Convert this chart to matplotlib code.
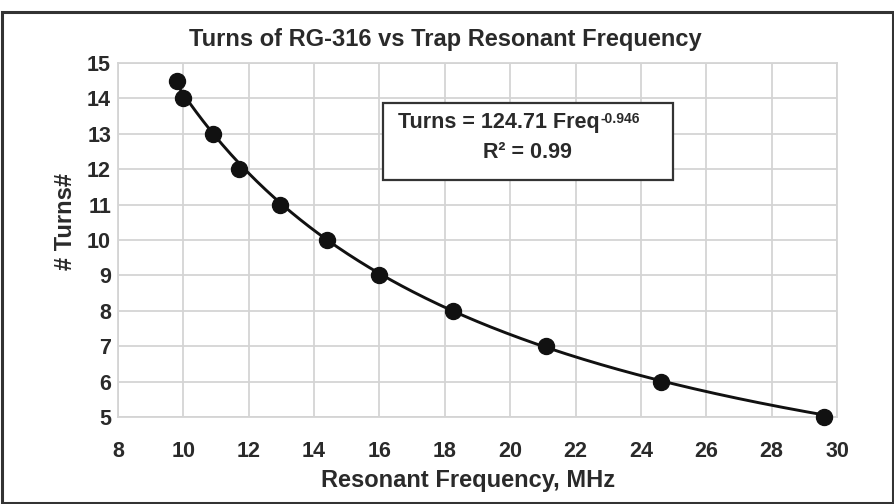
import numpy as np
import matplotlib
matplotlib.use("Agg")
import matplotlib.pyplot as plt
from matplotlib.patches import Rectangle

plt.rcParams['font.family'] = ['Liberation Sans', 'DejaVu Sans']

# Data
freq_mhz = [9.8, 10.0, 10.9, 11.7, 12.95, 14.4, 16.0, 18.25, 21.1, 24.6, 29.6]
turns = [14.5, 14.0, 13.0, 12.0, 11.0, 10.0, 9.0, 8.0, 7.0, 6.0, 5.0]

# Trendline coefficients shown on the chart
fit_coef = 124.71
fit_exp = -0.946
r_squared = 0.99

title = "Turns of RG-316 vs Trap Resonant Frequency"
xlabel = "Resonant Frequency, MHz"
ylabel = "# Turns#"
xticks = [8, 10, 12, 14, 16, 18, 20, 22, 24, 26, 28, 30]
yticks = [5, 6, 7, 8, 9, 10, 11, 12, 13, 14, 15]

W, H = 895, 504
fig = plt.figure(figsize=(W / 100, H / 100), dpi=100)
fig.patch.set_facecolor('white')

# outer frame
fig.patches.append(Rectangle((2 / W, 0.002), (893 - 2) / W, 1 - 12 / H - 0.002,
                             transform=fig.transFigure, fill=False,
                             edgecolor='#333333', linewidth=2.2, zorder=0))

ax = fig.add_axes([118 / W, 1 - 417 / H, (837 - 118) / W, (417 - 63) / H])
ax.set_xlim(8, 30)
ax.set_ylim(5, 15)
ax.set_xticks(xticks)
ax.set_yticks(yticks)
ax.grid(True, color='#d4d4d4', linewidth=1.3)
ax.set_axisbelow(True)
for s in ax.spines.values():
    s.set_color('#d4d4d4')
    s.set_linewidth(1.3)
ax.tick_params(length=0, labelsize=15.5, colors='#2a2a2a')
ax.tick_params(axis='x', pad=17)
ax.tick_params(axis='y', pad=5)
for lbl in ax.get_xticklabels() + ax.get_yticklabels():
    lbl.set_fontweight('bold')

fx = np.linspace(min(freq_mhz), max(freq_mhz), 300)
ax.plot(fx, fit_coef * fx ** fit_exp, color='#111111', linewidth=2.1, zorder=3)
ax.plot(freq_mhz, turns, linestyle='none', marker='o', markersize=11.5,
        color='#111111', zorder=4, clip_on=False)

fig.text(445 / W, 1 - 40 / H, title, ha='center', va='center',
         fontsize=17, fontweight='bold', color='#2a2a2a')
ax.set_xlabel(xlabel, fontsize=17, fontweight='bold', color='#2a2a2a', labelpad=10)
ax.xaxis.set_label_coords((468 - 118) / 719, -(480 - 417) / 354 - 0.0)
ax.xaxis.label.set_va('center')
ax.set_ylabel(ylabel, fontsize=17, fontweight='bold', color='#2a2a2a')
ax.yaxis.set_label_coords(-(118 - 65) / 719, (417 - 222) / 354)
ax.yaxis.label.set_va('center')

# equation box
ax.add_patch(Rectangle((16.1, 11.69), 24.97 - 16.1, 13.87 - 11.69,
                       facecolor='white', edgecolor='#333333', linewidth=1.6, zorder=5))
t1 = ax.text(16.57, 13.33, f"Turns = {fit_coef} Freq", ha='left', va='center',
             fontsize=15.5, fontweight='bold', color='#2a2a2a', zorder=6)
ax.annotate(f"{fit_exp}", xy=(1.0, 1.0), xycoords=t1, xytext=(0.5, 0),
            textcoords='offset points', ha='left', va='top',
            fontsize=10, fontweight='bold', color='#2a2a2a', zorder=6)
ax.text(20.52, 12.46, f"R\u00b2 = {r_squared}", ha='center', va='center',
        fontsize=15.5, fontweight='bold', color='#2a2a2a', zorder=6)

fig.savefig("out.png", dpi=100, facecolor='white')
